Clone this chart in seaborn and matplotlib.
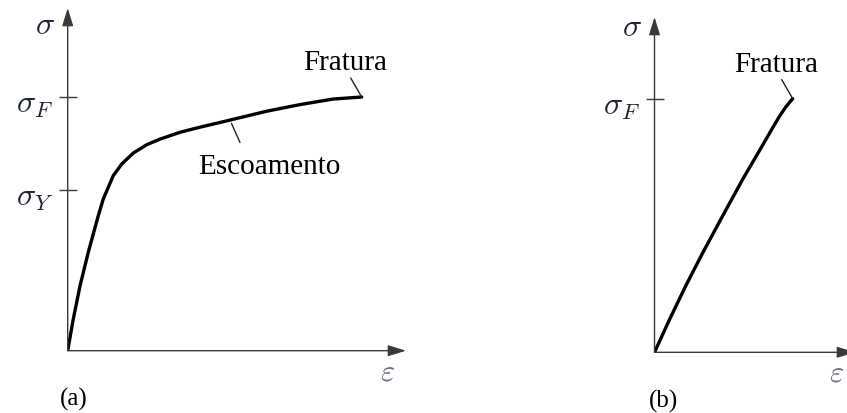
import numpy as np
import pandas as pd
import matplotlib
matplotlib.use("Agg")
import matplotlib.pyplot as plt
import matplotlib.transforms as mtransforms
import seaborn as sns

# Schematic stress-strain curves (normalised units: fracture stress = 1)
# (a) ductile material with yielding
strain_a = [0.0, 0.019, 0.042, 0.070, 0.104, 0.121, 0.138, 0.155, 0.184, 0.223,
            0.269, 0.314, 0.382, 0.450, 0.552, 0.677, 0.790, 0.903, 1.0]
stress_a = [0.0, 0.125, 0.256, 0.388, 0.532, 0.598, 0.644, 0.690, 0.736, 0.779,
            0.812, 0.834, 0.861, 0.881, 0.909, 0.944, 0.970, 0.992, 1.0]
yield_a = 0.633
yield_label_index = 14  # point on the curve pointed at by "Escoamento"

# (b) brittle material
strain_b = [0.0, 0.051, 0.108, 0.164, 0.232, 0.300, 0.357, 0.402, 0.425,
            0.446, 0.460, 0.470]
stress_b = [0.0, 0.129, 0.266, 0.392, 0.538, 0.682, 0.795, 0.885, 0.930,
            0.966, 0.986, 1.0]

tick_labels_a = [r"$\sigma_Y$", r"$\sigma_F$"]
tick_labels_b = [r"$\sigma_F$"]
fracture_text = "Fratura"
yield_text = "Escoamento"
panel_names = ["(a)", "(b)"]

W, H, DPI = 847, 414, 100
PX_X, PX_Y = 294.0, 253.7   # pixels per unit strain / stress

sns.set_theme(style="white")
plt.rcParams["font.family"] = ["Liberation Serif", "DejaVu Serif"]
plt.rcParams["mathtext.fontset"] = "cm"

fig = plt.figure(figsize=(W / DPI, H / DPI), dpi=DPI)

AXIS_COLOR = "#3a3a3a"
SIGMA_COLOR = "#1d2436"
EPS_COLOR = "#6a7080"


def make_axes(ox, oy, x_end, y_top):
    """Axes whose data origin sits at pixel (ox, oy)."""
    rect = [ox / W, (H - oy) / H, (x_end - ox) / W, (oy - y_top) / H]
    ax = fig.add_axes(rect)
    ax.set_xlim(0, (x_end - ox) / PX_X)
    ax.set_ylim(0, (oy - y_top) / PX_Y)
    for s in ax.spines.values():
        s.set_visible(False)
    ax.set_facecolor("none")
    ax.grid(False)
    arrow = dict(arrowstyle="-|>,head_length=0.55,head_width=0.17",
                 mutation_scale=20, lw=1.0, color=AXIS_COLOR,
                 shrinkA=0, shrinkB=0)
    ax.annotate("", xy=(1, 0), xytext=(0, 0), xycoords="axes fraction",
                textcoords="axes fraction", arrowprops=arrow,
                annotation_clip=False)
    ax.annotate("", xy=(0, 1), xytext=(0, 0), xycoords="axes fraction",
                textcoords="axes fraction", arrowprops=arrow,
                annotation_clip=False)
    ax.set_xticks([])
    ax.tick_params(axis="y", direction="inout", length=13, width=1.0,
                   color=AXIS_COLOR, pad=4, labelsize=23,
                   labelcolor=SIGMA_COLOR, left=True)
    # axis symbols
    ax.annotate(r"$\sigma$", xy=(0, 1.28), xycoords=("axes fraction", "data"),
                xytext=(-22.5, 0), textcoords="offset pixels",
                ha="center", va="center", fontsize=23, color=SIGMA_COLOR,
                annotation_clip=False)
    ax.annotate(r"$\varepsilon$", xy=(1, 0), xycoords="axes fraction",
                xytext=(-18, -21), textcoords="offset pixels",
                ha="center", va="center", fontsize=22, color=EPS_COLOR,
                annotation_clip=False)
    return ax


def finish_ticks(ax, values, labels):
    ax.set_yticks(values)
    ax.set_yticklabels(labels)
    ax.set_xlabel("")
    ax.set_ylabel("")
    shift = mtransforms.ScaledTranslation(0, -4 / DPI, fig.dpi_scale_trans)
    for lab in ax.get_yticklabels():
        lab.set_transform(lab.get_transform() + shift)


def fracture_note(ax, x, y):
    ax.annotate("", xy=(x, y), xytext=(-11, 19), textcoords="offset pixels",
                arrowprops=dict(arrowstyle="-", lw=1.0, color="#222222",
                                shrinkA=0, shrinkB=0))
    ax.annotate(fracture_text, xy=(x, y), xytext=(-16.7, 28),
                textcoords="offset pixels", ha="center", va="baseline",
                fontsize=21, color="black")


def panel_name(ax, name, dx):
    ax.annotate(name, xy=(0, 0), xycoords="axes fraction",
                xytext=(dx, -48), textcoords="offset pixels",
                ha="center", va="center", fontsize=18, color="black",
                annotation_clip=False)


# ---- (a) ductile ----
ax_a = make_axes(67.7, 351.7, 406, 9)
df_a = pd.DataFrame({"strain": strain_a, "stress": stress_a})
sns.lineplot(data=df_a, x="strain", y="stress", ax=ax_a, color="black",
             lw=2.4, sort=False, estimator=None, legend=False)
finish_ticks(ax_a, [yield_a, stress_a[-1]], tick_labels_a)
fracture_note(ax_a, strain_a[-1], stress_a[-1])
px, py = strain_a[yield_label_index], stress_a[yield_label_index]
ax_a.annotate("", xy=(px, py), xytext=(10, -22.4), textcoords="offset pixels",
              arrowprops=dict(arrowstyle="-", lw=1.0, color="#222222",
                              shrinkA=0, shrinkB=2.5))
ax_a.annotate(yield_text, xy=(px, py), xytext=(39, -53.4),
              textcoords="offset pixels", ha="center", va="baseline",
              fontsize=21, color="black")
panel_name(ax_a, panel_names[0], 6.5)

# ---- (b) brittle ----
ax_b = make_axes(654.5, 353.3, 855, 18)
df_b = pd.DataFrame({"strain": strain_b, "stress": stress_b})
sns.lineplot(data=df_b, x="strain", y="stress", ax=ax_b, color="black",
             lw=2.4, sort=False, estimator=None, legend=False)
finish_ticks(ax_b, [stress_b[-1]], tick_labels_b)
fracture_note(ax_b, strain_b[-1], stress_b[-1])
panel_name(ax_b, panel_names[1], 8.5)

fig.savefig("out.png", dpi=DPI, facecolor="white")
